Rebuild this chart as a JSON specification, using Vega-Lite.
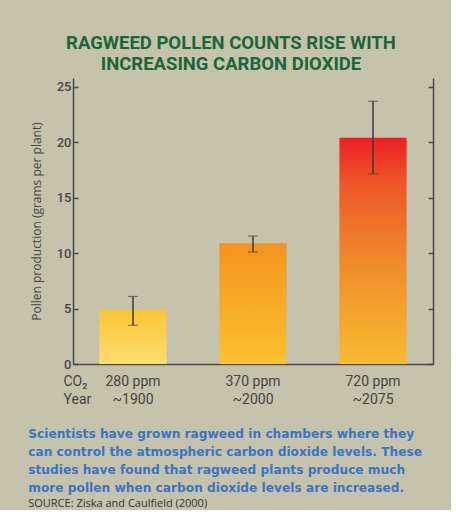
{
  "$schema": "https://vega.github.io/schema/vega-lite/v6.json",
  "background": "#c5c3ab",
  "padding": {"left": 28, "top": 33, "right": 17, "bottom": 0},
  "title": {
    "text": ["RAGWEED POLLEN COUNTS RISE WITH", "INCREASING CARBON DIOXIDE"],
    "font": "Roboto", "fontSize": 18.5, "fontWeight": "bold", "color": "#1b663b",
    "lineHeight": 21, "anchor": "middle", "frame": "bounds", "offset": 5
  },
  "datasets": {
    "pollen": [
      {"label": "280 ppm|~1900", "co2": "280 ppm", "year": "~1900", "pollen": 4.9, "lo": 3.5, "hi": 6.1},
      {"label": "370 ppm|~2000", "co2": "370 ppm", "year": "~2000", "pollen": 10.9, "lo": 10.1, "hi": 11.55},
      {"label": "720 ppm|~2075", "co2": "720 ppm", "year": "~2075", "pollen": 20.4, "lo": 17.15, "hi": 23.7}
    ]
  },
  "config": {
    "view": {"stroke": null},
    "axis": {"domainColor": "#4a4a4a", "domainWidth": 1.5, "tickColor": "#4a4a4a", "tickWidth": 1.5, "grid": false,
      "labelFont": "Roboto", "labelColor": "#454545", "titleFont": "Roboto", "titleColor": "#454545"}
  },
  "vconcat": [
    {
      "width": 360,
      "height": 286,
      "title": {
        "text": [
          "Scientists have grown ragweed in chambers where they",
          "can control the atmospheric carbon dioxide levels. These",
          "studies have found that ragweed plants produce much",
          "more pollen when carbon dioxide levels are increased."
        ],
        "orient": "bottom", "anchor": "start", "frame": "bounds", "offset": 22, "dx": -2,
        "font": "DejaVu Sans", "fontSize": 12.2, "fontWeight": "bold", "color": "#3b74c4", "lineHeight": 18,
        "subtitle": "SOURCE: Ziska and Caulfield (2000)",
        "subtitleFont": "Open Sans", "subtitleFontSize": 11, "subtitleColor": "#333333", "subtitlePadding": 4
      },
      "data": {"name": "pollen"},
      "layer": [
        {
          "transform": [{"filter": "datum.co2 == '280 ppm'"}],
          "mark": {"type": "bar", "color": {"gradient": "linear", "x1": 0, "y1": 1, "x2": 0, "y2": 0,
            "stops": [{"offset": 0, "color": "#fedd70"}, {"offset": 1, "color": "#fac535"}]}},
          "encoding": {
            "x": {"field": "label", "type": "nominal", "sort": null,
              "scale": {"paddingInner": 0.44, "paddingOuter": 0.22},
              "axis": {"labelExpr": "split(datum.label, '|')", "labelAngle": 0, "ticks": false,
                "labelFontSize": 14, "labelLineHeight": 18, "labelPadding": 10, "labelBaseline": "top",
                "title": ["CO₂", "Year"], "titleFontSize": 14, "titleFontWeight": "normal", "titleLineHeight": 18,
                "titleX": -10, "titleY": 10, "titleAlign": "left", "titleBaseline": "top", "titleAnchor": "start"}},
            "y": {"field": "pollen", "type": "quantitative",
              "scale": {"domain": [0, 25.8], "nice": false},
              "axis": {"orient": "left", "values": [0, 5, 10, 15, 20, 25], "tickSize": -5, "labelPadding": 7,
                "labelFontSize": 13, "labelFontWeight": 500,
                "title": "Pollen production (grams per plant)", "titleFont": "Open Sans", "titleFontSize": 12, "titleFontWeight": "normal", "titlePadding": 13}}
          }
        },
        {
          "transform": [{"filter": "datum.co2 == '370 ppm'"}],
          "mark": {"type": "bar", "color": {"gradient": "linear", "x1": 0, "y1": 1, "x2": 0, "y2": 0,
            "stops": [{"offset": 0, "color": "#f9c231"}, {"offset": 1, "color": "#f5931e"}]}},
          "encoding": {
            "x": {"field": "label", "type": "nominal", "sort": null},
            "y": {"field": "pollen", "type": "quantitative", "axis": null}
          }
        },
        {
          "transform": [{"filter": "datum.co2 == '720 ppm'"}],
          "mark": {"type": "bar", "color": {"gradient": "linear", "x1": 0, "y1": 1, "x2": 0, "y2": 0,
            "stops": [{"offset": 0, "color": "#f7bc2f"}, {"offset": 0.45, "color": "#f08a2c"}, {"offset": 0.8, "color": "#ee5628"}, {"offset": 1, "color": "#ee1f25"}]}},
          "encoding": {
            "x": {"field": "label", "type": "nominal", "sort": null},
            "y": {"field": "pollen", "type": "quantitative", "axis": null}
          }
        },
        {
          "mark": {"type": "errorbar", "color": "#3a3a3a", "ticks": {"size": 10, "strokeWidth": 1.5, "color": "#3a3a3a"}, "rule": {"strokeWidth": 1.5}},
          "encoding": {
            "x": {"field": "label", "type": "nominal", "sort": null},
            "y": {"field": "lo", "type": "quantitative",
              "axis": {"orient": "right", "values": [0, 5, 10, 15, 20, 25], "tickSize": -5, "labels": false, "title": null}},
            "y2": {"field": "hi"}
          }
        }
      ],
      "resolve": {"axis": {"y": "independent"}}
    }
  ]
}
